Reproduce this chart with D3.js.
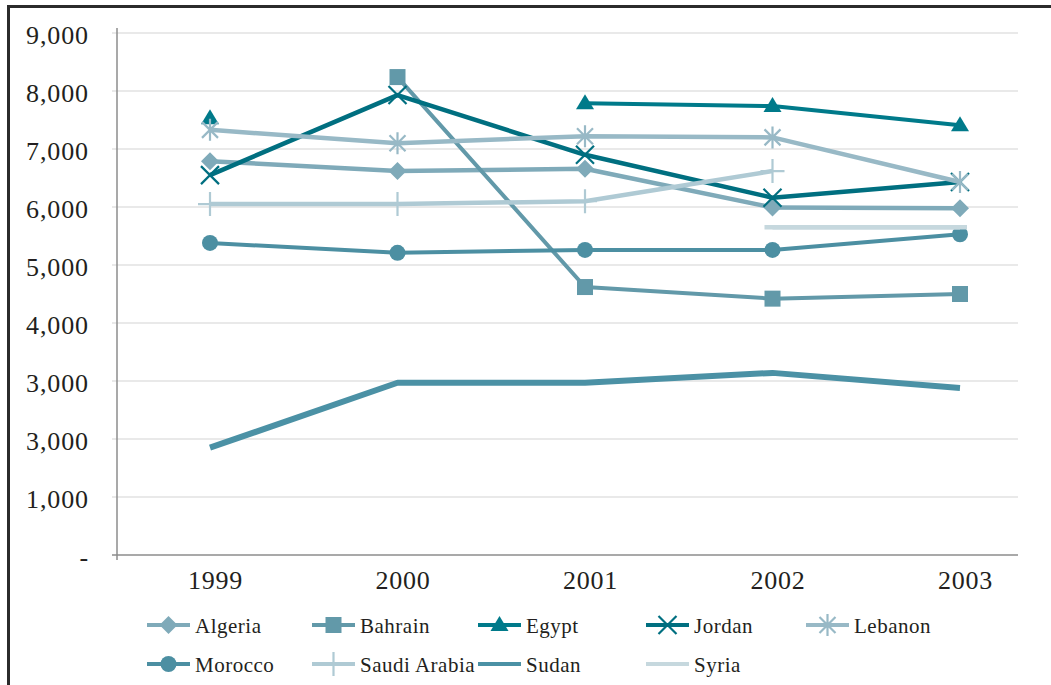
<!DOCTYPE html>
<html>
<head>
<meta charset="utf-8">
<script src="https://cdn.jsdelivr.net/npm/d3@7"></script>
<style>
  html, body { margin: 0; padding: 0; background: #fff; }
  svg { display: block; }
  text { font-family: "Liberation Serif", "Times New Roman", serif; fill: #231f20; }
</style>
</head>
<body>
<svg id="chart" width="1051" height="685"></svg>
<script>
// Years on the category axis
const years = ["1999", "2000", "2001", "2002", "2003"];

// Values per country (null = no value for that year)
const algeria     = [6790, 6620, 6660, 5990, 5980];
const bahrain     = [null, 8240, 4620, 4420, 4500];
const egypt       = [7530, null, 7790, 7740, 7410];
const jordan      = [6550, 7930, 6900, 6160, 6430];
const lebanon     = [7330, 7100, 7220, 7200, 6430];
const morocco     = [5380, 5210, 5260, 5260, 5530];
const saudiArabia = [6050, 6050, 6100, 6620, null];
const sudan       = [1850, 2970, 2970, 3140, 2880];
const syria       = [null, null, null, 5650, 5650];

// Value-axis ticks and the labels printed beside them
const yTickValues = [0, 1000, 2000, 3000, 4000, 5000, 6000, 7000, 8000, 9000];
const yTickLabels = ["-", "1,000", "3,000", "3,000", "4,000", "5,000", "6,000", "7,000", "8,000", "9,000"];

const seriesNames = ["Algeria", "Bahrain", "Egypt", "Jordan", "Lebanon",
                     "Morocco", "Saudi Arabia", "Sudan", "Syria"];
const seriesValues = [algeria, bahrain, egypt, jordan, lebanon,
                      morocco, saudiArabia, sudan, syria];

const styles = {
  "Algeria":      { color: "#7faab9", width: 4.5, marker: "diamond" },
  "Bahrain":      { color: "#6299a9", width: 4,   marker: "square" },
  "Egypt":        { color: "#007a8a", width: 4,   marker: "triangle" },
  "Jordan":       { color: "#006f80", width: 4.5, marker: "x" },
  "Lebanon":      { color: "#98b9c6", width: 4.5, marker: "asterisk" },
  "Morocco":      { color: "#4c8fa2", width: 4,   marker: "circle" },
  "Saudi Arabia": { color: "#afcad4", width: 4.5, marker: "plus" },
  "Sudan":        { color: "#4b91a5", width: 6,   marker: null },
  "Syria":        { color: "#c6d8de", width: 4.5, marker: null }
};

const series = seriesNames.map((name, i) => ({
  name,
  style: styles[name],
  points: years.map((y, j) => ({ year: y, value: seriesValues[i][j] }))
}));

const svg = d3.select("#chart");

// Outer frame (left and top edges)
svg.append("path")
  .attr("d", "M8.5,685 L8.5,6.5 L1051,6.5")
  .attr("fill", "none")
  .attr("stroke", "#2b2b2b")
  .attr("stroke-width", 3);

const plot = { left: 117, right: 1018, top: 33, bottom: 555 };

const x = d3.scalePoint().domain(years).range([210, 960]);
const y = d3.scaleLinear().domain([0, 9000]).range([plot.bottom, plot.top]);

// Horizontal gridlines
svg.append("g")
  .selectAll("line")
  .data(yTickValues.filter(v => v > 0))
  .join("line")
  .attr("x1", plot.left - 5).attr("x2", plot.right)
  .attr("y1", d => y(d)).attr("y2", d => y(d))
  .attr("stroke", "#e2e2e2")
  .attr("stroke-width", 1.5);

// Value axis
const yAxis = svg.append("g")
  .attr("transform", `translate(${plot.left},0)`)
  .call(d3.axisLeft(y)
    .tickValues(yTickValues)
    .tickFormat((d, i) => yTickLabels[i])
    .tickSize(0)
    .tickPadding(28));
yAxis.select(".domain").remove();
yAxis.append("line")
  .attr("x1", 0).attr("x2", 0)
  .attr("y1", 28).attr("y2", plot.bottom + 5)
  .attr("stroke", "#8c8c8c").attr("stroke-width", 1.5);
yAxis.selectAll(".tick text")
  .attr("font-size", 26)
  .attr("letter-spacing", 0.9)
  .attr("dy", "0.4em")
  .style("font-family", "'Liberation Serif', serif")
  .attr("fill", "#231f20");

// Category axis
const xAxis = svg.append("g")
  .attr("transform", `translate(0,${plot.bottom})`)
  .call(d3.axisBottom(x).tickSize(0).tickPadding(16));
xAxis.select(".domain").remove();
xAxis.append("line")
  .attr("x1", plot.left - 5).attr("x2", plot.right)
  .attr("y1", 0).attr("y2", 0)
  .attr("stroke", "#8c8c8c").attr("stroke-width", 1.5);
xAxis.selectAll(".tick text")
  .attr("font-size", 26)
  .attr("letter-spacing", 0.8)
  .attr("dx", 5)
  .style("font-family", "'Liberation Serif', serif")
  .attr("fill", "#231f20");

// Marker shapes
function drawMarker(g, type, color, cx, cy) {
  switch (type) {
    case "diamond":
      g.append("path")
        .attr("d", `M${cx},${cy - 9} L${cx + 9},${cy} L${cx},${cy + 9} L${cx - 9},${cy} Z`)
        .attr("fill", color);
      break;
    case "square":
      g.append("rect")
        .attr("x", cx - 8).attr("y", cy - 8)
        .attr("width", 16).attr("height", 16)
        .attr("fill", color);
      break;
    case "triangle":
      g.append("path")
        .attr("d", `M${cx},${cy - 9} L${cx + 9},${cy + 6} L${cx - 9},${cy + 6} Z`)
        .attr("fill", color);
      break;
    case "circle":
      g.append("circle")
        .attr("cx", cx).attr("cy", cy).attr("r", 8)
        .attr("fill", color);
      break;
    case "x":
      g.append("path")
        .attr("d", `M${cx - 9},${cy - 9} L${cx + 9},${cy + 9} M${cx - 9},${cy + 9} L${cx + 9},${cy - 9}`)
        .attr("stroke", color).attr("stroke-width", 2.2).attr("fill", "none");
      break;
    case "asterisk":
      g.append("path")
        .attr("d", `M${cx - 8},${cy - 8} L${cx + 8},${cy + 8} M${cx - 8},${cy + 8} L${cx + 8},${cy - 8} M${cx},${cy - 11} L${cx},${cy + 11}`)
        .attr("stroke", color).attr("stroke-width", 2.2).attr("fill", "none");
      break;
    case "plus":
      g.append("path")
        .attr("d", `M${cx - 12},${cy} L${cx + 12},${cy} M${cx},${cy - 12} L${cx},${cy + 12}`)
        .attr("stroke", color).attr("stroke-width", 2.2).attr("fill", "none");
      break;
  }
}

const line = d3.line()
  .defined(d => d.value != null)
  .x(d => x(d.year))
  .y(d => y(d.value));

const seriesG = svg.append("g");
series.forEach(s => {
  const g = seriesG.append("g");
  g.append("path")
    .datum(s.points)
    .attr("d", line)
    .attr("fill", "none")
    .attr("stroke", s.style.color)
    .attr("stroke-width", s.style.width)
    .attr("stroke-linejoin", "round");
  if (s.name === "Syria") {
    // Syria's segment runs a little past its last point
    const pts = s.points.filter(p => p.value != null);
    g.append("line")
      .attr("x1", x(pts[0].year) - 8).attr("x2", x(pts[pts.length - 1].year) + 7)
      .attr("y1", y(pts[0].value)).attr("y2", y(pts[pts.length - 1].value))
      .attr("stroke", s.style.color).attr("stroke-width", s.style.width);
  }
  if (s.style.marker) {
    s.points.filter(p => p.value != null).forEach(p => {
      drawMarker(g, s.style.marker, s.style.color, x(p.year), y(p.value));
    });
  }
});

// Legend, two rows
const legendCols = [147, 312, 478, 646, 806];
const legendRows = [625, 664];
const legend = svg.append("g");
series.forEach((s, i) => {
  const col = i < 5 ? i : i - 5;
  const row = i < 5 ? 0 : 1;
  const lx = legendCols[col];
  const ly = legendRows[row];
  const g = legend.append("g");
  g.append("line")
    .attr("x1", lx).attr("x2", lx + 43)
    .attr("y1", ly).attr("y2", ly)
    .attr("stroke", s.style.color)
    .attr("stroke-width", 4);
  if (s.style.marker) drawMarker(g, s.style.marker, s.style.color, lx + 21.5, ly);
  g.append("text")
    .attr("x", lx + 48)
    .attr("y", ly + 8)
    .attr("font-size", 21)
    .attr("letter-spacing", 0.5)
    .text(s.name);
});
</script>
</body>
</html>
